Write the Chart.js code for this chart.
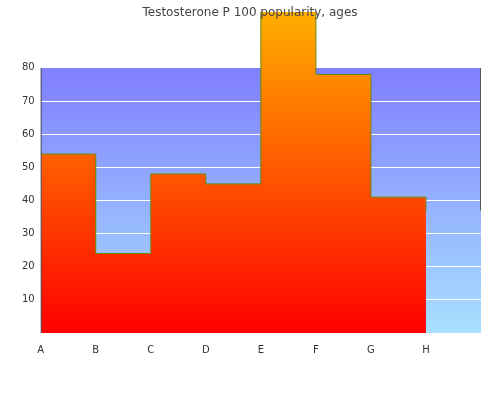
<!DOCTYPE html>
<html><head><script src="https://cdn.jsdelivr.net/npm/chart.js@4"></script>
<style>body{margin:0}#w{width:500px;height:400px}</style></head>
<body><div id="w"><canvas id="c"></canvas></div>
<script>
const categories=['A','B','C','D','E','F','G','H'];
const values=[54,54,24,48,45,100,78,41];
const lastValue=37;
const yTicks=[10,20,30,40,50,60,70,80];
const title='Testosterone P 100 popularity, ages';
const bg={id:'bg',beforeDraw(ch){const{ctx,chartArea:a}=ch;const y80=ch.scales.y.getPixelForValue(80);const g=ctx.createLinearGradient(0,y80,0,a.bottom);g.addColorStop(0,'#7f7fff');g.addColorStop(1,'#a8e0ff');ctx.save();ctx.fillStyle=g;ctx.fillRect(a.left,y80,a.right-a.left,a.bottom-y80);ctx.restore();},
afterDraw(ch){const{ctx,chartArea:a}=ch;const y80=ch.scales.y.getPixelForValue(80);ctx.save();ctx.strokeStyle='#555';ctx.lineWidth=1;ctx.beginPath();ctx.moveTo(a.left+0.5,y80);ctx.lineTo(a.left+0.5,a.bottom);ctx.moveTo(a.right-0.5,y80);ctx.lineTo(a.right-0.5,ch.scales.y.getPixelForValue(lastValue));ctx.stroke();
ctx.fillStyle='#444';ctx.font='12px "DejaVu Sans"';ctx.textAlign='center';ctx.textBaseline='middle';ctx.fillText(title,250,13);ctx.restore();}};
const data=values.concat([lastValue]);
new Chart(document.getElementById('c'),{type:'line',
data:{labels:categories.concat(['']),datasets:[{data:data.slice(1).concat([]),stepped:'before',fill:'origin',pointRadius:0,borderWidth:1,borderColor:'#6a8a00',
backgroundColor:(c)=>{const ch=c.chart;if(!ch.chartArea)return '#f80';const g=ch.ctx.createLinearGradient(0,ch.chartArea.bottom,0,0);g.addColorStop(0,'#ff0000');g.addColorStop(1,'#ffb400');return g;}}]},
options:{responsive:true,maintainAspectRatio:false,animation:false,
layout:{padding:{top:0,bottom:41,left:16,right:19}},
plugins:{legend:{display:false},tooltip:{enabled:false},title:{display:false}},
scales:{x:{offset:false,grid:{display:false},border:{display:false},afterBuildTicks(s){s.ticks=s.ticks.slice(0,8);},ticks:{color:'#333',font:{family:'DejaVu Sans',size:10},maxRotation:0,callback:(v,i)=>categories[i]}},
y:{min:0,max:96.87,afterBuildTicks(s){s.ticks=yTicks.map(v=>({value:v}));},grid:{color:'#fff',drawTicks:false},border:{display:false},ticks:{color:'#333',padding:6,font:{family:'DejaVu Sans',size:10}}}}},
plugins:[bg]});
</script></body></html>
